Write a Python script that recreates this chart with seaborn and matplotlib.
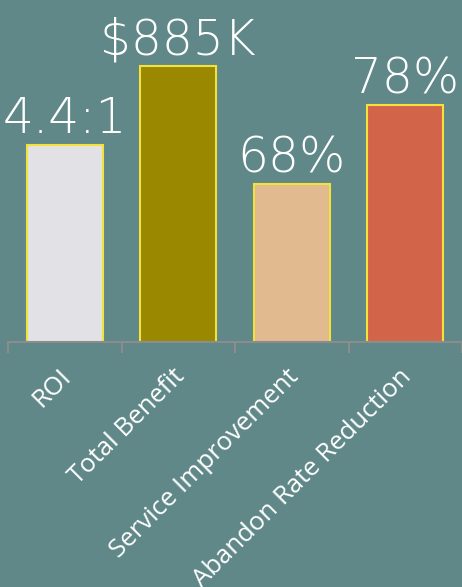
import matplotlib
matplotlib.use("Agg")
import matplotlib.pyplot as plt
import matplotlib.transforms as mtransforms
import seaborn as sns
import pandas as pd
import numpy as np

categories = ["ROI", "Total Benefit", "Service Improvement", "Abandon Rate Reduction"]
bar_heights = [50, 70, 40, 60]
value_labels = ["4.4:1", "$885K", "68%", "78%"]
bar_colors = ["#e2e2e6", "#998800", "#e2ba90", "#d2644a"]

BG = "#608888"
sns.set_theme(style="white")
plt.rcParams["font.family"] = ["Open Sans", "DejaVu Sans"]

fig = plt.figure(figsize=(4.62, 5.87), dpi=100, facecolor=BG)
ax = fig.add_axes([8/462, (587-342)/587, 454/462, 342/587])
ax.set_facecolor(BG)

df = pd.DataFrame({"cat": categories, "val": bar_heights})
sns.barplot(data=df, x="cat", y="val", hue="cat", palette=bar_colors,
            legend=False, ax=ax, width=0.67, edgecolor="#f2e23a",
            linewidth=1.5, saturation=1)

ax.set_xlim(-0.5, 3.5)
ax.set_ylim(0, 342/3.943)
for i, (h, lab) in enumerate(zip(bar_heights, value_labels)):
    ax.text(i, h + 0.4, lab, ha="center", va="bottom", color="white",
            fontsize=35, family=["DejaVu Sans"], fontweight=200)

for s in ["top", "left", "right"]:
    ax.spines[s].set_visible(False)
ax.spines["bottom"].set_color("#8c8c8c")
ax.spines["bottom"].set_linewidth(1.5)
ax.set_yticks([])
ax.set_xlabel("")
ax.set_ylabel("")
ax.set_xticks(range(len(categories)))
ax.set_xticks(np.arange(-0.5, 4, 1), minor=True)
ax.tick_params(axis="x", which="major", length=0, pad=16)
ax.tick_params(axis="x", which="minor", length=8, width=1.5, color="#8c8c8c", bottom=True)
ax.set_xticklabels(categories, rotation=45, ha="right", rotation_mode="anchor",
                   color="white", fontsize=18.5)
shift = mtransforms.ScaledTranslation(-6/100, 0, fig.dpi_scale_trans)
for t in ax.get_xticklabels():
    t.set_transform(t.get_transform() + shift)

fig.savefig("out.png", dpi=100, facecolor=BG)
